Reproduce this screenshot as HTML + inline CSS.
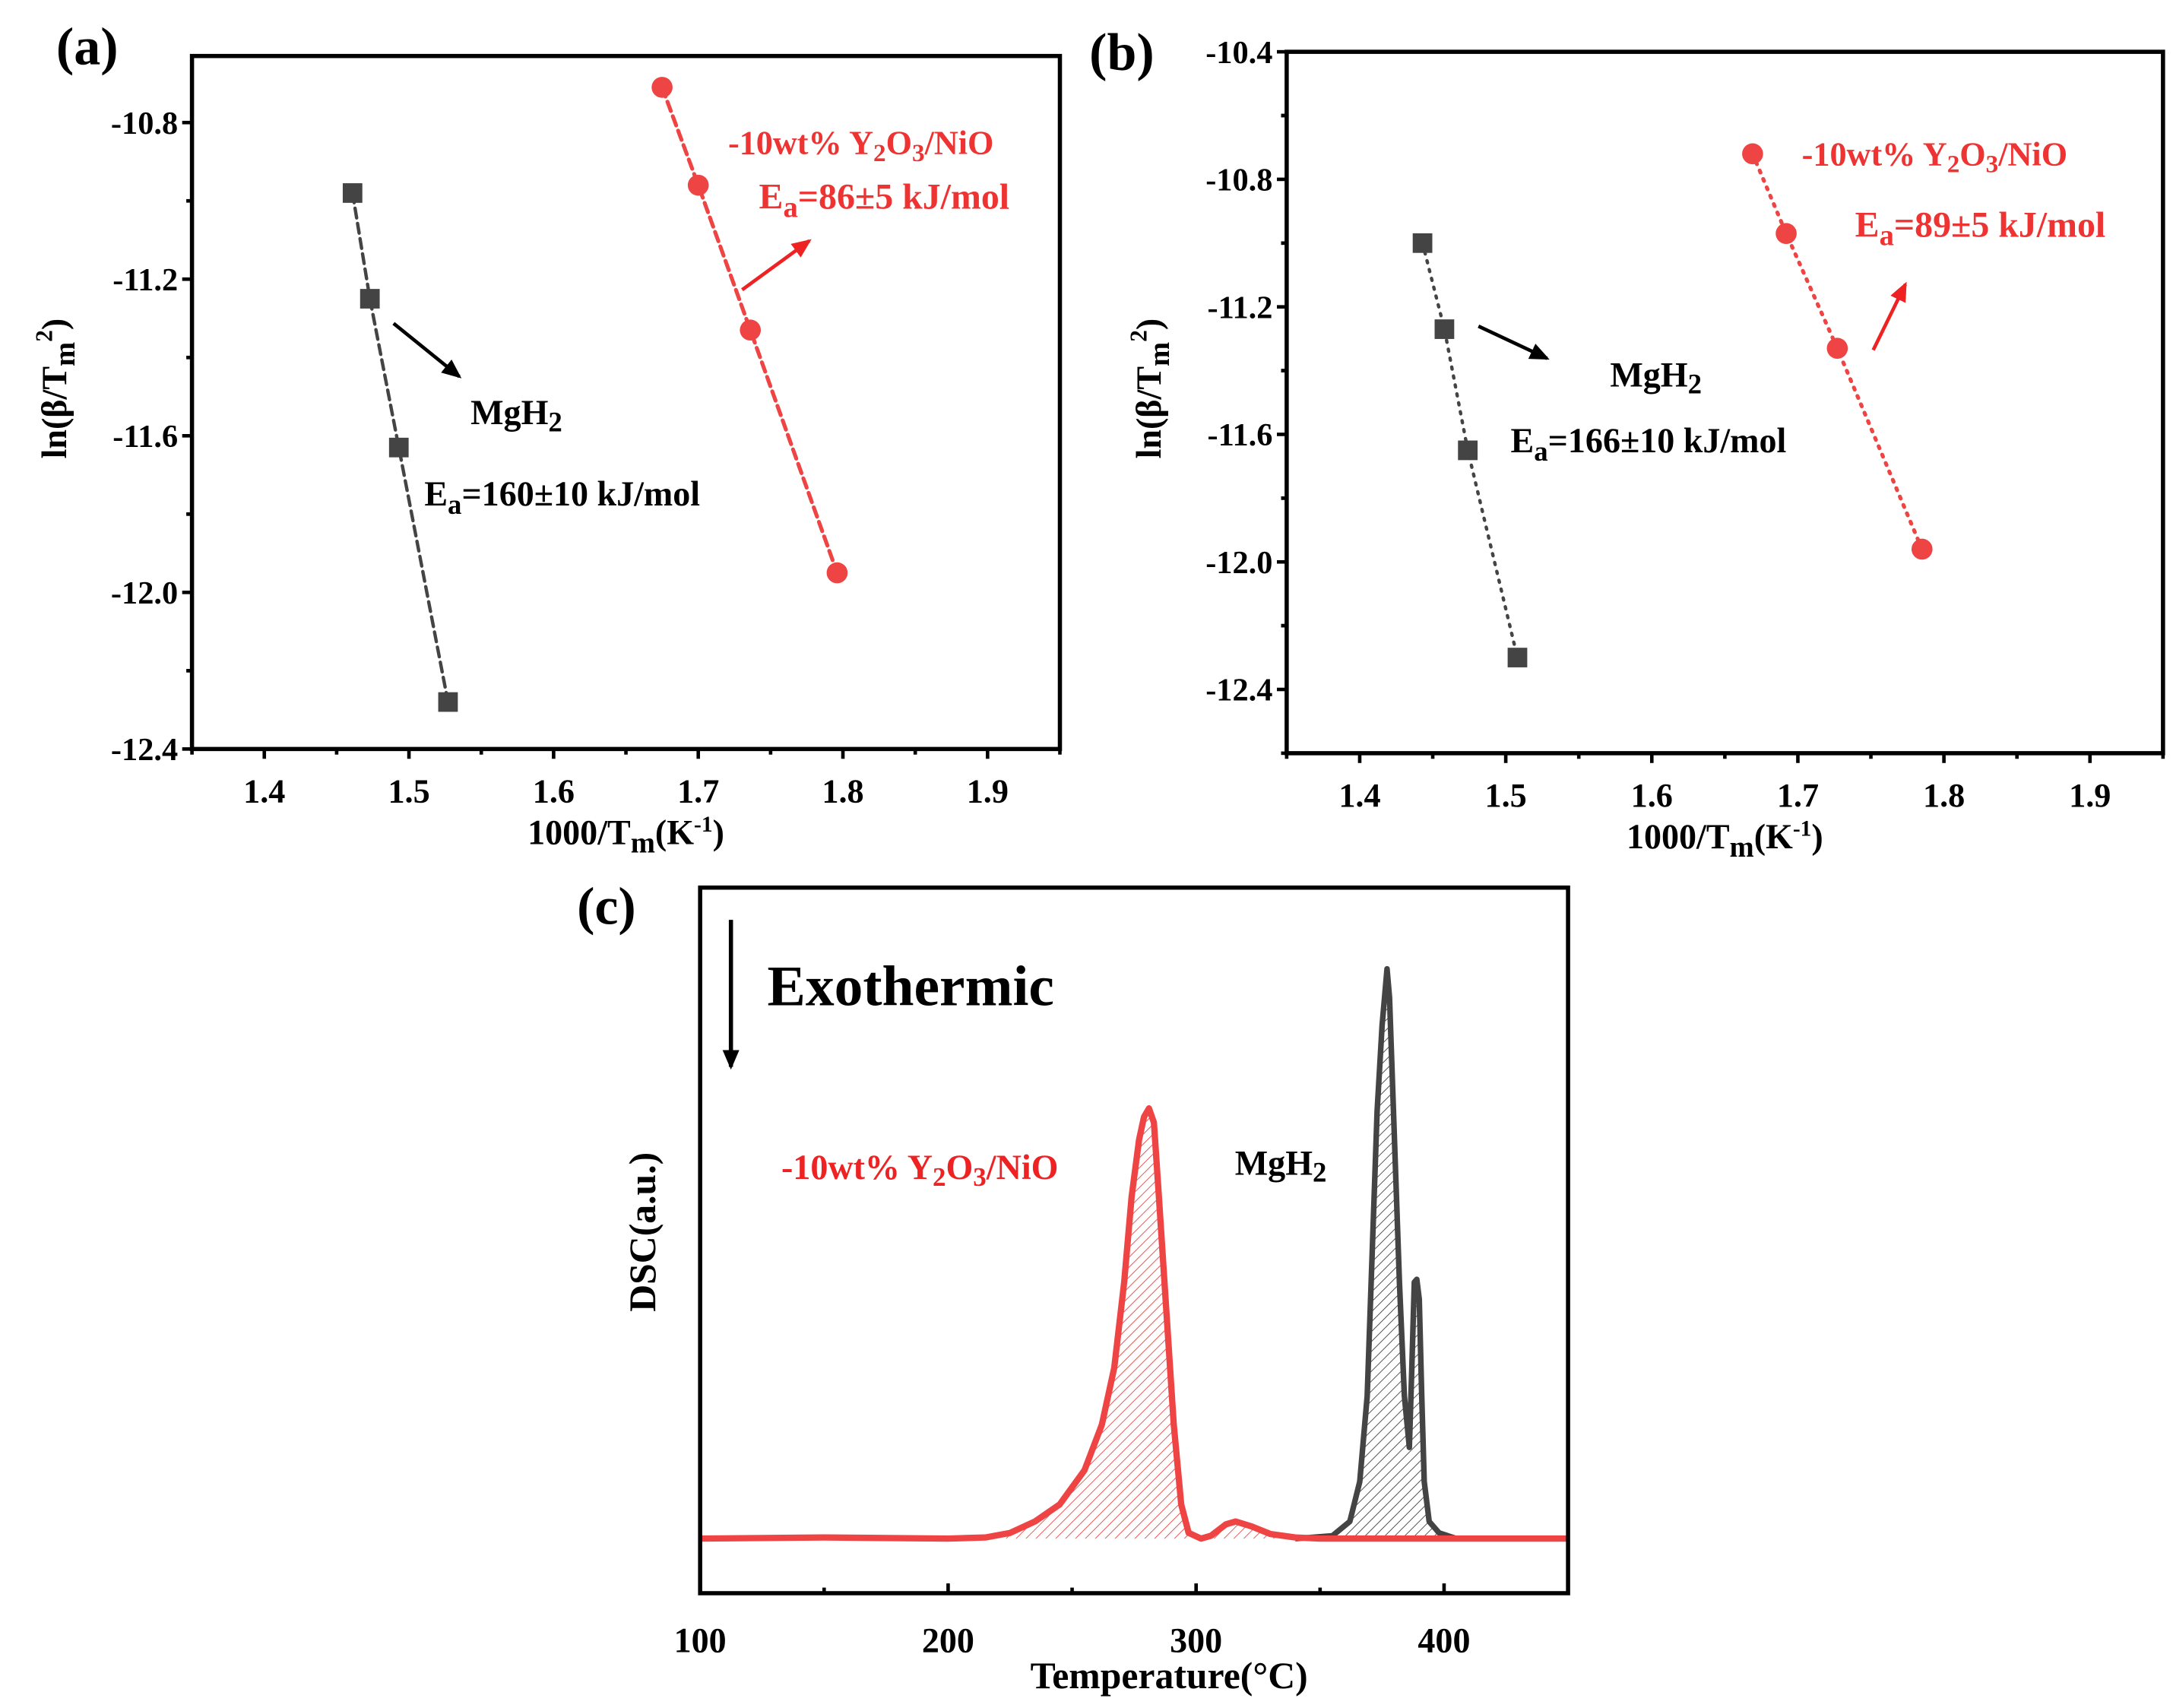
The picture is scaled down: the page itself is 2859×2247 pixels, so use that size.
<!DOCTYPE html>
<html><head><meta charset="utf-8"><style>
html,body{margin:0;padding:0;background:#fff;}
svg{display:block;}
text{font-family:"Liberation Serif",serif;font-weight:bold;}
</style></head><body>
<svg id="fig" width="2859" height="2247" viewBox="0 0 1552 1220" xmlns="http://www.w3.org/2000/svg">
<defs>
<pattern id="hatchR" patternUnits="userSpaceOnUse" width="5" height="5" patternTransform="rotate(45)"><line x1="0" y1="0" x2="0" y2="5" stroke="#e53935" stroke-width="0.9"/></pattern>
<pattern id="hatchK" patternUnits="userSpaceOnUse" width="5" height="5" patternTransform="rotate(45)"><line x1="0" y1="0" x2="0" y2="5" stroke="#333" stroke-width="0.9"/></pattern>
</defs>
<g id="root"></g>
</svg>
<script>
// Panel (a) data
const aBlackX = [1.461, 1.473, 1.493, 1.527];
const aBlackY = [-10.98, -11.25, -11.63, -12.28];
const aRedX = [1.675, 1.700, 1.736, 1.796];
const aRedY = [-10.71, -10.96, -11.33, -11.95];
const aYTicks = [-10.8, -11.2, -11.6, -12.0, -12.4];
const xTicksAB = [1.4, 1.5, 1.6, 1.7, 1.8, 1.9];
// Panel (b) data
const bBlackX = [1.443, 1.458, 1.474, 1.508];
const bBlackY = [-11.00, -11.27, -11.65, -12.30];
const bRedX = [1.669, 1.692, 1.727, 1.785];
const bRedY = [-10.72, -10.97, -11.33, -11.96];
const bYTicks = [-10.4, -10.8, -11.2, -11.6, -12.0, -12.4];
// Panel (c) data
const cRedT = [100,150,200,215,225,235,245,255,262,267,271,274,277,279,281,283,285,288,291,294,297,302,306,312,316,322,330,340,350,450];
const cRedV = [0,0.002,0,0.002,0.01,0.03,0.06,0.12,0.2,0.3,0.45,0.6,0.7,0.74,0.755,0.73,0.6,0.4,0.2,0.06,0.01,0,0.005,0.025,0.03,0.022,0.008,0.002,0,0];
const cBlkT = [340,355,362,366,369,371,373,375,377,378,380,382,384,386,387,388,389,390,391,392,394,398,405];
const cBlkV = [0,0.005,0.03,0.1,0.25,0.5,0.75,0.9,1.0,0.95,0.7,0.45,0.25,0.16,0.3,0.45,0.455,0.42,0.25,0.1,0.03,0.01,0];
const cXTicks = [100,200,300,400];

const NS="http://www.w3.org/2000/svg";
const root=document.getElementById('root');
function mk(tag,attrs,parent,txt){const e=document.createElementNS(NS,tag);for(const k in attrs)e.setAttribute(k,attrs[k]);if(txt!==undefined)e.textContent=txt;(parent||root).appendChild(e);return e;}
function lin(d0,d1,r0,r1){return v=>r0+(v-d0)/(d1-d0)*(r1-r0);}

function sciPanel(o){
  const g=mk('g',{});
  
  
  const X=lin(1.35,1.95,o.l,o.r), Y=lin(o.ymin,o.ymax,o.b,o.t);
  const fr=mk('rect',{x:o.l,y:o.t,width:o.r-o.l,height:o.b-o.t,fill:'none',stroke:'#000','stroke-width':3},g);
  
  
  xTicksAB.forEach(v=>{
    mk('line',{x1:X(v),x2:X(v),y1:o.b,y2:o.b+7,stroke:'#000','stroke-width':2.5},g);
    mk('line',{x1:X(v+0.05),x2:X(v+0.05),y1:o.b,y2:o.b+4,stroke:'#000','stroke-width':2.5},g);
    const t=mk('text',{x:X(v),y:o.b+38,'font-size':24,'text-anchor':'middle'},g,v.toFixed(1));
    
    
  });
  mk('line',{x1:X(1.35),x2:X(1.35),y1:o.b,y2:o.b+4,stroke:'#000','stroke-width':2.5},g);
  o.yt.forEach(v=>{
    mk('line',{x1:o.l-7,x2:o.l,y1:Y(v),y2:Y(v),stroke:'#000','stroke-width':2.5},g);
    if(v-0.2>o.ymin-1e-9) mk('line',{x1:o.l-4,x2:o.l,y1:Y(v-0.2),y2:Y(v-0.2),stroke:'#000','stroke-width':2.5},g);
    if(v+0.2<o.ymax) mk('line',{x1:o.l-4,x2:o.l,y1:Y(v+0.2),y2:Y(v+0.2),stroke:'#000','stroke-width':2.5},g);
    const t=mk('text',{x:o.l-10,y:Y(v)+8,'font-size':23,'text-anchor':'end'},g,v.toFixed(1));
    
    
  });
  const xt=mk('text',{x:(o.l+o.r)/2,y:o.b+68,'font-size':25,'text-anchor':'middle'},g);
  
  
  xt.innerHTML='1000/T<tspan font-size="21" dy="6">m</tspan><tspan dy="-6">(K</tspan><tspan font-size="16" dy="-9">-1</tspan><tspan dy="9">)</tspan>';
  const yt=mk('text',{transform:`translate(${o.l-90},${(o.t+o.b)/2-10}) rotate(-90)`,'font-size':25,'text-anchor':'middle'},g);
  
  
  yt.innerHTML='ln(β/T<tspan font-size="21" dy="6">m</tspan><tspan font-size="17" dy="-16">2</tspan><tspan dy="10">)</tspan>';
  const bl=mk('polyline',{points:o.bx.map((v,i)=>X(v)+','+Y(o.by[i])).join(' '),fill:'none',stroke:'#444','stroke-width':2.4,'stroke-dasharray':o.dash,'stroke-linecap':'round'},g);
  
  
  const rl=mk('polyline',{points:o.rx.map((v,i)=>X(v)+','+Y(o.ry[i])).join(' '),fill:'none',stroke:'#ee4444','stroke-width':2.8,'stroke-dasharray':o.dash,'stroke-linecap':'round'},g);
  
  
  o.bx.forEach((v,i)=>{
    const s=mk('rect',{x:X(v)-7,y:Y(o.by[i])-7,width:14,height:14,fill:'#444'},g);
    
    
  });
  o.rx.forEach((v,i)=>{
    const c=mk('circle',{cx:X(v),cy:Y(o.ry[i]),r:7.5,fill:'#ee4444'},g);
    
    
  });
  return g;
}

sciPanel({name:'panel-a',l:137,r:757,t:40,b:535,ymin:-12.4,ymax:-10.63,yt:aYTicks,bx:aBlackX,by:aBlackY,rx:aRedX,ry:aRedY,dash:'7,4'});
sciPanel({name:'panel-b',l:919,r:1545,t:37,b:538,ymin:-12.6,ymax:-10.4,yt:bYTicks,bx:bBlackX,by:bBlackY,rx:bRedX,ry:bRedY,dash:'1.5,5'});

(function(){
  const g=mk('g',{});
  
  
  const l=500,r=1120,t=634,b=1138;
  const X=lin(100,450,l,r), Y=lin(0,1,1099,692);
  const base=Y(0);
  function area(T,V){return 'M'+X(T[0])+','+base+' '+T.map((v,i)=>'L'+X(v)+','+Y(V[i])).join(' ')+' L'+X(T[T.length-1])+','+base+' Z';}
  const ha=mk('path',{d:area(cRedT,cRedV),fill:'url(#hatchR)'},g);
  
  
  const hb=mk('path',{d:area(cBlkT,cBlkV),fill:'url(#hatchK)'},g);
  
  
  const bl=mk('polyline',{points:cBlkT.map((v,i)=>X(v)+','+Y(cBlkV[i])).join(' '),fill:'none',stroke:'#444','stroke-width':4,'stroke-linejoin':'round'},g);
  
  
  const rl=mk('polyline',{points:cRedT.map((v,i)=>X(v)+','+Y(cRedV[i])).join(' '),fill:'none',stroke:'#ee4444','stroke-width':4.5,'stroke-linejoin':'round'},g);
  
  
  const fr=mk('rect',{x:l,y:t,width:r-l,height:b-t,fill:'none',stroke:'#000','stroke-width':3},g);
  
  
  cXTicks.forEach(v=>{
    mk('line',{x1:X(v),x2:X(v),y1:b,y2:b-7,stroke:'#000','stroke-width':2.5},g);
    mk('line',{x1:X(v+50),x2:X(v+50),y1:b,y2:b-4,stroke:'#000','stroke-width':2.5},g);
    const tx=mk('text',{x:X(v),y:b+42,'font-size':25,'text-anchor':'middle'},g,String(v));
    
    
  });
  const xt=mk('text',{x:835,y:1206,'font-size':27,'text-anchor':'middle'},g,'Temperature(°C)');
  
  
  const yt=mk('text',{transform:'translate(468,880) rotate(-90)','font-size':27,'text-anchor':'middle'},g,'DSC(a.u.)');
  
  
})();
</script>
<svg width="2859" height="2247" viewBox="0 0 1552 1220" style="position:absolute;left:0;top:0" xmlns="http://www.w3.org/2000/svg">
<defs>
<marker id="mK" markerWidth="14" markerHeight="12" refX="12" refY="6" orient="auto" markerUnits="userSpaceOnUse"><path d="M0,0 L14,6 L0,12 z" fill="#000"/></marker>
<marker id="mR" markerWidth="14" markerHeight="12" refX="12" refY="6" orient="auto" markerUnits="userSpaceOnUse"><path d="M0,0 L14,6 L0,12 z" fill="#ee2222"/></marker>
</defs>
<g font-family="Liberation Serif, serif" font-weight="bold">
<text x="40" y="46" font-size="38">(a)</text>
<text x="778" y="50" font-size="38">(b)</text>
<text x="412" y="660" font-size="38">(c)</text>

<text x="520" y="110" font-size="24" fill="#ee3333">-10wt% Y<tspan font-size="18" dy="5">2</tspan><tspan dy="-5">O</tspan><tspan font-size="18" dy="5">3</tspan><tspan dy="-5">/NiO</tspan></text>
<text x="542" y="149" font-size="26" fill="#ee3333">E<tspan font-size="21" dy="6">a</tspan><tspan dy="-6">=86±5 kJ/mol</tspan></text>
<line x1="530" y1="207" x2="578" y2="172" stroke="#ee2222" stroke-width="2.5" marker-end="url(#mR)"/>
<line x1="281" y1="231" x2="328" y2="269" stroke="#000" stroke-width="2.5" marker-end="url(#mK)"/>
<text x="336" y="303" font-size="25">MgH<tspan font-size="20" dy="5">2</tspan></text>
<text x="303" y="361" font-size="25">E<tspan font-size="20" dy="6">a</tspan><tspan dy="-6">=160±10 kJ/mol</tspan></text>

<text x="1287" y="118" font-size="24" fill="#ee3333">-10wt% Y<tspan font-size="18" dy="5">2</tspan><tspan dy="-5">O</tspan><tspan font-size="18" dy="5">3</tspan><tspan dy="-5">/NiO</tspan></text>
<text x="1325" y="169" font-size="26" fill="#ee3333">E<tspan font-size="21" dy="6">a</tspan><tspan dy="-6">=89±5 kJ/mol</tspan></text>
<line x1="1338" y1="250" x2="1361" y2="203" stroke="#ee2222" stroke-width="2.5" marker-end="url(#mR)"/>
<line x1="1056" y1="233" x2="1105" y2="256" stroke="#000" stroke-width="2.5" marker-end="url(#mK)"/>
<text x="1150" y="276" font-size="25">MgH<tspan font-size="20" dy="5">2</tspan></text>
<text x="1079" y="323" font-size="25">E<tspan font-size="20" dy="6">a</tspan><tspan dy="-6">=166±10 kJ/mol</tspan></text>

<line x1="522" y1="657" x2="522" y2="762" stroke="#000" stroke-width="3" marker-end="url(#mK)"/>
<text x="548" y="718" font-size="41">Exothermic</text>
<text x="558" y="842" font-size="25" fill="#ee2222">-10wt% Y<tspan font-size="19" dy="5">2</tspan><tspan dy="-5">O</tspan><tspan font-size="19" dy="5">3</tspan><tspan dy="-5">/NiO</tspan></text>
<text x="882" y="839" font-size="25">MgH<tspan font-size="20" dy="5">2</tspan></text>
</g>
</svg>
</body></html>
